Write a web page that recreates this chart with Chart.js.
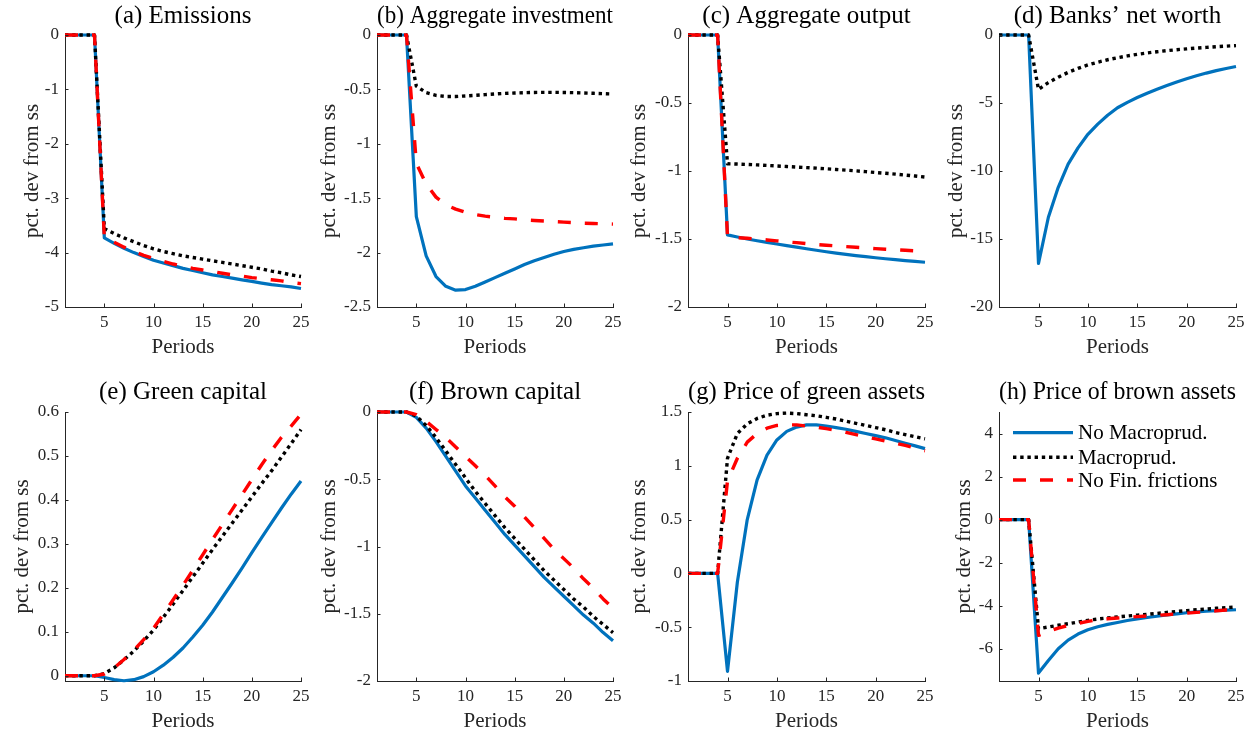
<!DOCTYPE html>
<html><head><meta charset="utf-8">
<script src="https://cdn.jsdelivr.net/npm/chart.js@4.4.1/dist/chart.umd.min.js"></script>
<style>
html,body{margin:0;padding:0;background:#fff;width:1260px;height:734px;overflow:hidden;position:relative}
canvas{position:absolute}
</style></head><body>
<script>
// ---------------- DATA ----------------
const periods = [1,2,3,4,5,6,7,8,9,10,11,12,13,14,15,16,17,18,19,20,21,22,23,24,25];
const xTickValues = [5,10,15,20,25];
const xTickLabels = ['5','10','15','20','25'];
const legendLabels = ['No Macroprud.','Macroprud.','No Fin. frictions'];
const panelTitles = ['(a) Emissions','(b) Aggregate investment','(c) Aggregate output','(d) Banks\u2019 net worth',
  '(e) Green capital','(f) Brown capital','(g) Price of green assets','(h) Price of brown assets'];
const xAxisLabel = 'Periods';
const yAxisLabel = 'pct. dev from ss';

// (a) Emissions
const emissionsNoMacro = [0,0,0,0,-3.73,-3.83,-3.92,-4.00,-4.07,-4.14,-4.19,-4.24,-4.29,-4.33,-4.37,-4.41,-4.44,-4.47,-4.50,-4.53,-4.56,-4.59,-4.61,-4.63,-4.66];
const emissionsMacro   = [0,0,0,0,-3.56,-3.65,-3.73,-3.80,-3.87,-3.93,-3.98,-4.02,-4.06,-4.09,-4.12,-4.15,-4.18,-4.21,-4.24,-4.27,-4.30,-4.34,-4.37,-4.41,-4.44];
const emissionsNoFin   = [0,0,0,0,-3.72,-3.81,-3.90,-3.98,-4.05,-4.11,-4.16,-4.21,-4.25,-4.29,-4.32,-4.35,-4.38,-4.41,-4.43,-4.46,-4.48,-4.50,-4.52,-4.55,-4.57];
const yTicksA = [-5,-4,-3,-2,-1,0];
const yLabelsA = ['-5','-4','-3','-2','-1','0'];

// (b) Aggregate investment
const investNoMacro = [0,0,0,0,-1.67,-2.03,-2.22,-2.31,-2.345,-2.34,-2.31,-2.27,-2.23,-2.19,-2.15,-2.11,-2.075,-2.045,-2.015,-1.99,-1.97,-1.955,-1.94,-1.93,-1.92];
const investMacro   = [0,0,0,0,-0.47,-0.53,-0.555,-0.565,-0.565,-0.56,-0.555,-0.548,-0.542,-0.537,-0.533,-0.53,-0.528,-0.527,-0.527,-0.528,-0.53,-0.533,-0.536,-0.539,-0.542];
const investNoFin   = [0,0,0,0,-1.18,-1.37,-1.49,-1.56,-1.60,-1.63,-1.65,-1.665,-1.675,-1.685,-1.69,-1.70,-1.705,-1.71,-1.715,-1.72,-1.725,-1.73,-1.732,-1.735,-1.738];
const yTicksB = [-2.5,-2,-1.5,-1,-0.5,0];
const yLabelsB = ['-2.5','-2','-1.5','-1','-0.5','0'];

// (c) Aggregate output
const outputNoMacro = [0,0,0,0,-1.47,-1.485,-1.50,-1.513,-1.525,-1.537,-1.549,-1.56,-1.572,-1.583,-1.594,-1.604,-1.613,-1.622,-1.63,-1.638,-1.645,-1.652,-1.659,-1.665,-1.671];
const outputMacro   = [0,0,0,0,-0.947,-0.949,-0.952,-0.955,-0.959,-0.963,-0.967,-0.971,-0.975,-0.979,-0.984,-0.989,-0.994,-0.999,-1.005,-1.011,-1.017,-1.023,-1.03,-1.037,-1.045];
const outputNoFin   = [0,0,0,0,-1.485,-1.49,-1.495,-1.50,-1.507,-1.514,-1.521,-1.527,-1.534,-1.54,-1.546,-1.551,-1.556,-1.561,-1.566,-1.571,-1.575,-1.579,-1.583,-1.587,-1.59];
const yTicksC = [-2,-1.5,-1,-0.5,0];
const yLabelsC = ['-2','-1.5','-1','-0.5','0'];

// (d) Banks' net worth (no banks without financial frictions)
const netWorthNoMacro = [0,0,0,0,-16.8,-13.4,-11.2,-9.5,-8.3,-7.3,-6.55,-5.9,-5.35,-4.95,-4.6,-4.28,-3.99,-3.72,-3.46,-3.22,-3.0,-2.8,-2.62,-2.46,-2.32];
const netWorthMacro   = [0,0,0,0,-4.0,-3.5,-3.1,-2.75,-2.45,-2.2,-2.0,-1.82,-1.67,-1.54,-1.42,-1.32,-1.23,-1.15,-1.08,-1.02,-0.96,-0.91,-0.86,-0.82,-0.78];
const netWorthNoFin   = null;
const yTicksD = [-20,-15,-10,-5,0];
const yLabelsD = ['-20','-15','-10','-5','0'];

// (e) Green capital
const greenKNoMacro = [0,0,0,0,-0.004,-0.009,-0.0115,-0.009,-0.002,0.009,0.024,0.042,0.063,0.088,0.115,0.145,0.178,0.211,0.245,0.28,0.314,0.348,0.381,0.413,0.443];
const greenKMacro   = [0,0,0,0,0.005,0.018,0.036,0.056,0.079,0.104,0.133,0.163,0.194,0.225,0.256,0.287,0.317,0.347,0.377,0.407,0.437,0.466,0.497,0.528,0.56];
const greenKNoFin   = [0,0,0,0,0.004,0.018,0.037,0.058,0.082,0.108,0.14,0.173,0.206,0.24,0.275,0.31,0.344,0.378,0.412,0.446,0.48,0.512,0.542,0.568,0.595];
const yTicksE = [0,0.1,0.2,0.3,0.4,0.5,0.6];
const yLabelsE = ['0','0.1','0.2','0.3','0.4','0.5','0.6'];

// (f) Brown capital
const brownKNoMacro = [0,0,0,0,-0.04,-0.12,-0.22,-0.33,-0.44,-0.55,-0.64,-0.73,-0.82,-0.91,-0.99,-1.07,-1.15,-1.23,-1.30,-1.37,-1.44,-1.51,-1.57,-1.64,-1.70];
const brownKMacro   = [0,0,0,0,-0.03,-0.10,-0.19,-0.29,-0.39,-0.49,-0.59,-0.68,-0.77,-0.86,-0.94,-1.02,-1.10,-1.18,-1.25,-1.32,-1.39,-1.45,-1.52,-1.58,-1.64];
const brownKNoFin   = [0,0,0,0,-0.02,-0.07,-0.13,-0.19,-0.26,-0.33,-0.40,-0.47,-0.55,-0.63,-0.70,-0.78,-0.86,-0.94,-1.02,-1.09,-1.16,-1.24,-1.31,-1.39,-1.46];
const yTicksF = [-2,-1.5,-1,-0.5,0];
const yLabelsF = ['-2','-1.5','-1','-0.5','0'];

// (g) Price of green assets
const greenPNoMacro = [0,0,0,0,-0.91,-0.08,0.50,0.87,1.10,1.24,1.32,1.36,1.38,1.38,1.37,1.355,1.34,1.32,1.30,1.28,1.26,1.235,1.21,1.185,1.16];
const greenPMacro   = [0,0,0,0,1.07,1.30,1.39,1.44,1.47,1.485,1.49,1.485,1.475,1.465,1.45,1.435,1.415,1.395,1.375,1.355,1.335,1.31,1.29,1.27,1.25];
const greenPNoFin   = [0,0,0,0,0.86,1.07,1.22,1.30,1.35,1.375,1.38,1.38,1.37,1.36,1.345,1.33,1.31,1.29,1.27,1.25,1.23,1.21,1.19,1.165,1.14];
const yTicksG = [-1,-0.5,0,0.5,1,1.5];
const yLabelsG = ['-1','-0.5','0','0.5','1','1.5'];

// (h) Price of brown assets
const brownPNoMacro = [0,0,0,0,-7.13,-6.55,-6.0,-5.6,-5.32,-5.12,-4.98,-4.87,-4.78,-4.69,-4.61,-4.55,-4.49,-4.43,-4.38,-4.33,-4.29,-4.26,-4.23,-4.21,-4.19];
const brownPMacro   = [0,0,0,0,-5.07,-4.99,-4.91,-4.84,-4.76,-4.68,-4.62,-4.57,-4.52,-4.48,-4.44,-4.40,-4.36,-4.31,-4.27,-4.23,-4.19,-4.16,-4.12,-4.09,-4.06];
const brownPNoFin   = [0,0,0,0,-5.38,-5.20,-5.04,-4.92,-4.82,-4.73,-4.66,-4.61,-4.57,-4.54,-4.51,-4.48,-4.45,-4.42,-4.38,-4.35,-4.31,-4.28,-4.24,-4.20,-4.17];
const yTicksH = [-6,-4,-2,0,2,4];
const yLabelsH = ['-6','-4','-2','0','2','4'];

// ---------------- PANELS (layout/style config) ----------------
const FONT = '"Liberation Serif", "Times New Roman", serif';
const AX = '#262626';
const cols = [{cl:65,cr:301},{cl:377,cr:613},{cl:688,cr:925},{cl:999,cr:1236}];
const rows = [{top:0,ct:35,cb:307,titlePad:1.5,bottomPad:6},{top:377,ct:412,cb:681,titlePad:0,bottomPad:0}];
const YW = 64, XH = 54, RP = 18;

const panels = [
  {title:panelTitles[0],s:[emissionsNoMacro,emissionsMacro,emissionsNoFin],yMin:-5,yMax:0,yt:yTicksA,yl:yLabelsA,ylD:32.5},
  {title:panelTitles[1],s:[investNoMacro,investMacro,investNoFin],yMin:-2.5,yMax:0,yt:yTicksB,yl:yLabelsB,ylD:48},
  {title:panelTitles[2],s:[outputNoMacro,outputMacro,outputNoFin],yMin:-2,yMax:0,yt:yTicksC,yl:yLabelsC,ylD:49},
  {title:panelTitles[3],s:[netWorthNoMacro,netWorthMacro,netWorthNoFin],yMin:-20,yMax:0,yt:yTicksD,yl:yLabelsD,ylD:42.6},
  {title:panelTitles[4],s:[greenKNoMacro,greenKMacro,greenKNoFin],yMin:-0.012,yMax:0.6,yt:yTicksE,yl:yLabelsE,ylD:42.6},
  {title:panelTitles[5],s:[brownKNoMacro,brownKMacro,brownKNoFin],yMin:-2,yMax:0,yt:yTicksF,yl:yLabelsF,ylD:48},
  {title:panelTitles[6],s:[greenPNoMacro,greenPMacro,greenPNoFin],yMin:-1,yMax:1.5,yt:yTicksG,yl:yLabelsG,ylD:49},
  {title:panelTitles[7],s:[brownPNoMacro,brownPMacro,brownPNoFin],yMin:-7.5,yMax:5,yt:yTicksH,yl:yLabelsH,ylD:34.3,legend:true}
];

const seriesStyles = [
  {color:'#0072BD', width:3.2, dash:[], order:3},
  {color:'#000000', width:3.4, dash:[3.4,3.8], order:2},
  {color:'#FF0000', width:3.4, dash:[13,14], order:1}
];

const inwardTicks = {
  id:'inwardTicks',
  afterDraw(chart){
    const {ctx, chartArea:a, scales} = chart;
    ctx.save();
    ctx.strokeStyle = AX; ctx.lineWidth = 1;
    ctx.beginPath();
    scales.x.ticks.forEach(t=>{ const px = Math.round(scales.x.getPixelForValue(t.value))+0.5; ctx.moveTo(px,a.bottom); ctx.lineTo(px,a.bottom-3.5); });
    scales.y.ticks.forEach(t=>{ const py = Math.round(scales.y.getPixelForValue(t.value))+0.5; ctx.moveTo(a.left,py); ctx.lineTo(a.left+3.5,py); });
    ctx.stroke();
    ctx.restore();
  }
};

const insideLegend = {
  id:'insideLegend',
  afterDraw(chart, args, opts){
    if(!opts.show) return;
    const {ctx, chartArea:a} = chart;
    const rowsY = [20.7, 45.3, 68];
    ctx.save();
    legendLabels.forEach((lab,i)=>{
      const st = seriesStyles[i];
      const y = a.top + rowsY[i];
      ctx.strokeStyle = st.color; ctx.lineWidth = st.width; ctx.setLineDash(st.dash); ctx.lineCap='butt';
      ctx.beginPath(); ctx.moveTo(a.left+14,y); ctx.lineTo(a.left+74,y); ctx.stroke();
      ctx.setLineDash([]);
      ctx.fillStyle = '#000'; ctx.font = '21px '+FONT; ctx.textBaseline='middle'; ctx.textAlign='left';
      ctx.fillText(lab, a.left+79, y+1);
    });
    ctx.restore();
  }
};

panels.forEach((p,idx)=>{
  const col = cols[idx%4], row = rows[Math.floor(idx/4)];
  const cv = document.createElement('canvas');
  const W = (col.cr-col.cl)+YW+RP;
  const TH = row.ct-row.top;
  const H = TH+(row.cb-row.ct)+XH+row.bottomPad;
  cv.width = W; cv.height = H;
  cv.style.left = (col.cl-YW)+'px'; cv.style.top = row.top+'px';
  cv.style.width = W+'px'; cv.style.height = H+'px';
  document.body.appendChild(cv);

  const datasets = [];
  p.s.forEach((vals,i)=>{
    if(!vals) return;
    const st = seriesStyles[i];
    datasets.push({
      label: legendLabels[i],
      data: periods.map((x,k)=>({x:x,y:vals[k]})),
      borderColor: st.color, backgroundColor: st.color,
      borderWidth: st.width, borderDash: st.dash, borderCapStyle:'butt', borderJoinStyle:'round',
      pointRadius:0, tension:0, fill:false, clip:false, order: st.order
    });
  });

  new Chart(cv.getContext('2d'), {
    type:'line',
    data:{datasets},
    options:{
      responsive:false, animation:false, devicePixelRatio:1,
      layout:{padding:{left:0,top:0,right:RP,bottom:row.bottomPad}},
      plugins:{legend:{display:false}, tooltip:{enabled:false}, insideLegend:{show:!!p.legend}},
      scales:{
        x:{
          type:'linear', position:'bottom', min:1, max:25,
          afterBuildTicks:s=>{ s.ticks = xTickValues.map(v=>({value:v})); },
          afterFit:s=>{ s.height = XH; },
          grid:{display:false, drawTicks:false}, border:{display:true,color:AX,width:1},
          ticks:{font:{family:FONT,size:17}, color:AX, padding:5, maxRotation:0, autoSkip:false,
                 callback:(v)=>xTickLabels[xTickValues.indexOf(v)]},
          title:{display:true,text:xAxisLabel,color:AX,font:{family:FONT,size:21},padding:{top:0,bottom:1}}
        },
        xt:{
          type:'linear', position:'top', min:1, max:25,
          afterFit:s=>{ s.height = TH; },
          grid:{display:false, drawTicks:false}, border:{display:false}, ticks:{display:false},
          title:{display:true,text:p.title,color:'#000',font:{family:FONT,size:25},padding:{top:row.titlePad,bottom:0}}
        },
        y:{
          type:'linear', position:'left', min:p.yMin, max:p.yMax,
          afterBuildTicks:s=>{ s.ticks = p.yt.map(v=>({value:v})); },
          afterFit:s=>{ s.width = YW; },
          grid:{display:false, drawTicks:false}, border:{display:true,color:AX,width:1},
          ticks:{font:{family:FONT,size:17}, color:AX, padding:6, autoSkip:false,
                 callback:(v)=>p.yl[p.yt.indexOf(v)]},
          title:{display:true,text:yAxisLabel,color:AX,font:{family:FONT,size:21},padding:{top:51.4-p.ylD,bottom:0}}
        }
      }
    },
    plugins:[inwardTicks, insideLegend]
  });
});
</script>
</body></html>
